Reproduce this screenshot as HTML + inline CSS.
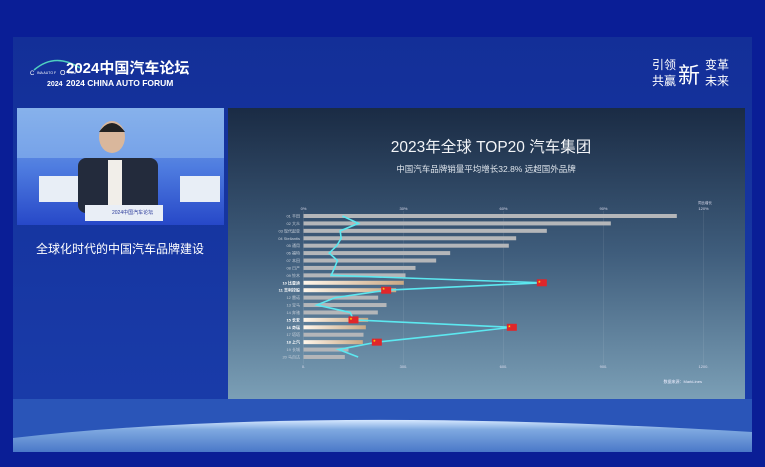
<!DOCTYPE html>
<html><head><meta charset="utf-8"><style>
html,body{margin:0;padding:0;width:765px;height:467px;overflow:hidden;background:#0a1e96;font-family:"Liberation Sans","Noto Sans CJK SC",sans-serif}
svg{display:block}
</style></head><body>
<svg width="765" height="467" viewBox="0 0 765 467" xmlns="http://www.w3.org/2000/svg">
<defs>
<linearGradient id="slide" x1="0" y1="0" x2="0" y2="1"><stop offset="0" stop-color="#1a2b44"/><stop offset="0.5" stop-color="#3f5d7c"/><stop offset="1" stop-color="#7b9fb6"/></linearGradient>
<linearGradient id="panel" x1="0" y1="0" x2="0" y2="1"><stop offset="0" stop-color="#132f98"/><stop offset="1" stop-color="#1a3dab"/></linearGradient>
<linearGradient id="globe" x1="0" y1="0" x2="0" y2="1"><stop offset="0" stop-color="#d6e8ff"/><stop offset="0.3" stop-color="#7fa9e0"/><stop offset="1" stop-color="#4a78c8"/></linearGradient>
<linearGradient id="hl" x1="0" y1="0" x2="1" y2="0"><stop offset="0" stop-color="#fff6ea"/><stop offset="1" stop-color="#c9a884"/></linearGradient>
<linearGradient id="video" x1="0" y1="0" x2="0" y2="1"><stop offset="0" stop-color="#7fa9e6"/><stop offset="0.5" stop-color="#4f7de0"/><stop offset="1" stop-color="#2748c8"/></linearGradient>
</defs>
<rect x="0" y="0" width="765" height="467" fill="#0a1e96"/>
<rect x="13" y="37" width="739" height="415" fill="url(#panel)"/>
<g>
<rect x="13" y="399" width="739" height="53" fill="#2a55b8"/>
<path d="M13 438 Q300 405 752 432 L752 452 L13 452 Z" fill="url(#globe)"/>
</g>
<g>
<path d="M34 70 Q55 52 80 68" stroke="#4fd0c0" stroke-width="1.5" fill="none"/>
<text x="30" y="75" font-size="6" fill="#fff">C</text><text x="37" y="74" font-size="3.5" fill="#fff">INA AUTO F</text><text x="60" y="75" font-size="7" fill="#fff">O</text><text x="68" y="74" font-size="3.5" fill="#fff">RUM</text>
<text x="47" y="86" font-size="7" font-weight="bold" fill="#fff">2024</text>
</g>
<text x="66" y="73" font-size="15" font-weight="bold" fill="#fff">2024中国汽车论坛</text>
<text x="66" y="86" font-size="8.5" font-weight="bold" fill="#fff">2024 CHINA AUTO FORUM</text>
<g fill="#fff">
<text x="652" y="69" font-size="12">引领</text>
<text x="652" y="85" font-size="12">共赢</text>
<text x="678" y="83" font-size="22">新</text>
<text x="705" y="69" font-size="12">变革</text>
<text x="705" y="85" font-size="12">未来</text>
</g>
<g>
<rect x="17" y="108" width="207" height="117" fill="url(#video)"/>
<rect x="17" y="108" width="207" height="50" fill="#8cb7ee" opacity="0.6"/>
<rect x="39" y="176" width="40" height="26" fill="#e8eef6"/>
<rect x="180" y="176" width="40" height="26" fill="#e8eef6"/>
<rect x="78" y="158" width="80" height="55" rx="8" fill="#232b3c"/>
<rect x="108" y="160" width="14" height="45" fill="#f1eee9"/>
<ellipse cx="112" cy="137" rx="13" ry="16" fill="#d9b79c"/>
<path d="M99 132 Q112 114 125 132" fill="#222"/>
<rect x="85" y="205" width="78" height="16" fill="#e9eef6"/>
<text x="112" y="214" font-size="5" fill="#2a3a9a">2024中国汽车论坛</text>
</g>
<text x="120" y="253" font-size="12" fill="#fff" text-anchor="middle">全球化时代的中国汽车品牌建设</text>
<rect x="228" y="108" width="517" height="291" fill="url(#slide)"/>
<text x="491" y="152" font-size="15.5" fill="#f2f4f7" text-anchor="middle">2023年全球 TOP20 汽车集团</text>
<text x="486" y="172" font-size="8.5" fill="#dfe5ec" text-anchor="middle">中国汽车品牌销量平均增长32.8% 远超国外品牌</text>
<g id="chart"></g>
<text x="702" y="383" font-size="4" fill="#eef" text-anchor="end">数据来源：MarkLines</text>
</svg>
<script>
const labels=["01 丰田","02 大众","03 现代起亚","04 Stellantis","05 通用","06 福特","07 本田","08 日产","09 铃木","10 比亚迪","11 吉利控股","12 雷诺","13 宝马","14 奔驰","15 长安","16 奇瑞","17 塔塔","18 上汽","19 长城","20 马自达"];
const sales=[1120,922,730,638,616,440,398,336,306,301,278,224,249,223,194,187,180,178,135,124];
const growth=[11.7,16.5,11,11.3,10,7.7,10.2,9.3,8.3,71.5,24.8,9.5,4,14,15,62.5,43,22,10.5,16.4];
const chinese=[false,false,false,false,false,false,false,false,false,true,true,false,false,false,true,true,false,true,false,false];
const flagRows=[9,10,14,15,17];
const salesTicks=[0,300,600,900,1200];
const growthTicks=[0,30,60,90,120];
const NS="http://www.w3.org/2000/svg";
const g=document.getElementById('chart');
const X0=303.5,W=400,Y0=216,DY=7.42;
const xs=v=>X0+v/1200*W, xg=v=>X0+v/120*W, yr=i=>Y0+i*DY;
function mk(t,a,p){const e=document.createElementNS(NS,t);for(const k in a)e.setAttribute(k,a[k]);(p||g).appendChild(e);return e;}
salesTicks.forEach((t,i)=>{
  const gl=mk('line',{x1:xs(t),x2:xs(t),y1:211,y2:364,stroke:'#ffffff','stroke-opacity':0.15,'stroke-width':0.5});
  
  
  const bt=mk('text',{x:xs(t),y:368,'font-size':4,fill:'#dde',"text-anchor":'middle'});bt.textContent=t+'.';
  
  
  const tt=mk('text',{x:xg(growthTicks[i]),y:210,'font-size':4,fill:'#dde',"text-anchor":'middle'});tt.textContent=growthTicks[i]+'%';
  
  
});
const lg=mk('text',{x:705,y:204,'font-size':3.5,fill:'#dde',"text-anchor":'middle'});lg.textContent='同比增长';


sales.forEach((v,i)=>{
  const b=mk('rect',{x:X0,y:yr(i)-2,width:xs(v)-X0,height:4,fill:chinese[i]?'url(#hl)':'#b4b6b9'});
  
  
  const l=mk('text',{x:300,y:yr(i)+1.5,'font-size':4,fill:chinese[i]?'#fff':'#c8d0da',"text-anchor":'end','font-weight':chinese[i]?'bold':'normal'});l.textContent=labels[i];
  
  
});
const pts=growth.map((v,i)=>xg(v)+','+yr(i)).join(' ');
const pl=mk('polyline',{points:pts,fill:'none',stroke:'#5ce8f0','stroke-width':1.6});


flagRows.forEach(i=>{
  const f=mk('rect',{x:xg(growth[i])-5,y:yr(i)-3.5,width:10,height:7,fill:'#e0262a'});
  
  
  const s=mk('text',{x:xg(growth[i])-4,y:yr(i)-0.5,'font-size':3,fill:'#ffde00'});s.textContent='★';
  
  
});
</script>
</body></html>
